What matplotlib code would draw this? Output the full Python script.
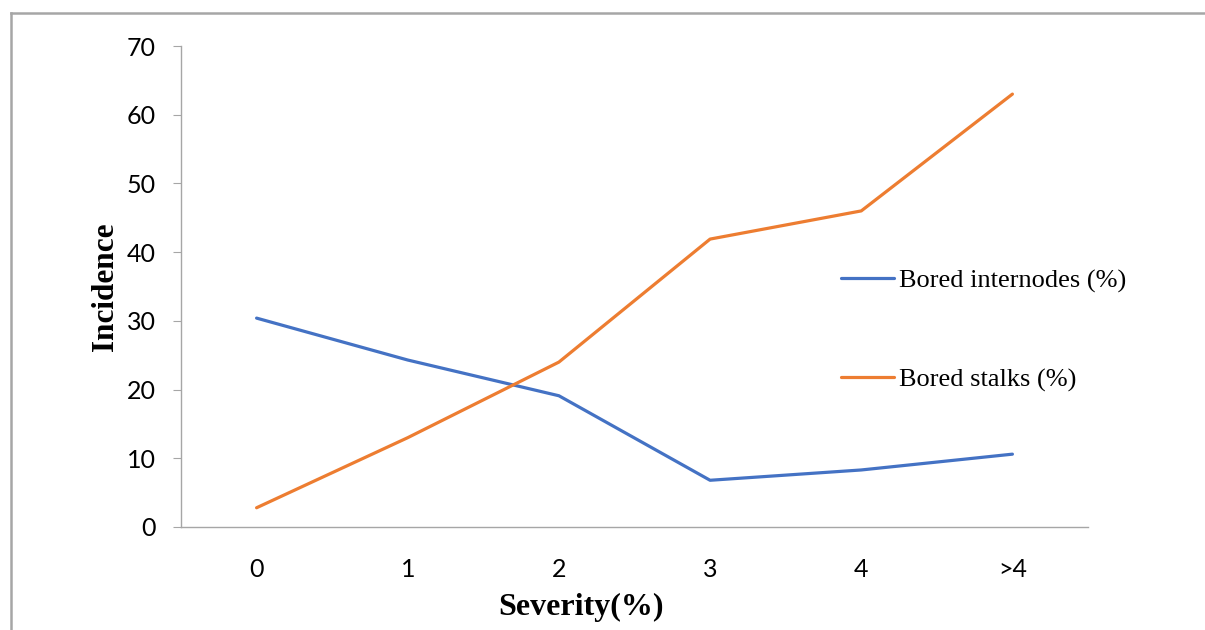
import matplotlib
matplotlib.use("Agg")
import matplotlib.pyplot as plt
from matplotlib.lines import Line2D

# severity classes and incidence values (%)
severity = ["0", "1", "2", "3", "4", ">4"]
bored_internodes = [30.4, 24.3, 19.1, 6.8, 8.3, 10.6]
bored_stalks = [2.8, 13.0, 24.0, 41.9, 46.0, 63.0]

blue = "#4472c4"
orange = "#ed7d31"
grey = "#a6a6a6"

fig = plt.figure(figsize=(12.05, 6.3), dpi=100)
ax = fig.add_axes([181 / 1205, 1 - 527 / 630, (1088 - 181) / 1205, (527 - 46) / 630])

x = list(range(len(severity)))
ax.plot(x, bored_internodes, color=blue, lw=2.3, solid_capstyle="round", label="Bored internodes (%)")
ax.plot(x, bored_stalks, color=orange, lw=2.3, solid_capstyle="round", label="Bored stalks (%)")

ax.set_xlim(-0.5, 5.5)
ax.set_ylim(0, 70)
ax.set_yticks(range(0, 71, 10))
ax.set_xticks(x)
ax.set_xticklabels(severity)

for side in ["top", "right"]:
    ax.spines[side].set_visible(False)
ax.spines["left"].set_color(grey)
ax.spines["bottom"].set_color(grey)
ax.spines["left"].set_linewidth(1.0)
ax.spines["bottom"].set_linewidth(1.0)
ax.tick_params(axis="y", length=6, color=grey, labelsize=18, pad=12)
ax.tick_params(axis="x", length=0, labelsize=18, pad=22)
for lab in ax.get_xticklabels() + ax.get_yticklabels():
    lab.set_family("Lato")

ax.set_ylabel("Incidence", family="Liberation Serif", fontweight="bold", fontsize=22.5)
ax.set_xlabel("Severity(%)", family="Liberation Serif", fontweight="bold", fontsize=23)
ax.yaxis.set_label_coords((105 - 181) / (1088 - 181), (527 - 287) / (527 - 46))
ax.xaxis.set_label_coords((581 - 181) / (1088 - 181), -(607 - 527) / (527 - 46))
ax.xaxis.label.set_va("center")
ax.yaxis.label.set_va("center")

# legend drawn as two separate entries with wide spacing
leg = ax.legend(loc="upper left", bbox_to_anchor=(817 / 1205, 1 - 245 / 630),
                bbox_transform=fig.transFigure, frameon=False,
                prop={"family": "Liberation Serif", "size": 19},
                handlelength=2.0, handletextpad=0.2, labelspacing=2.85)

# outer chart border
fig.add_artist(Line2D([11 / 1205, 11 / 1205], [0, 1 - 13 / 630], transform=fig.transFigure, color=grey, lw=1.8))
fig.add_artist(Line2D([11 / 1205, 1], [1 - 13 / 630, 1 - 13 / 630], transform=fig.transFigure, color=grey, lw=1.8))

fig.savefig("out.png", dpi=100)
